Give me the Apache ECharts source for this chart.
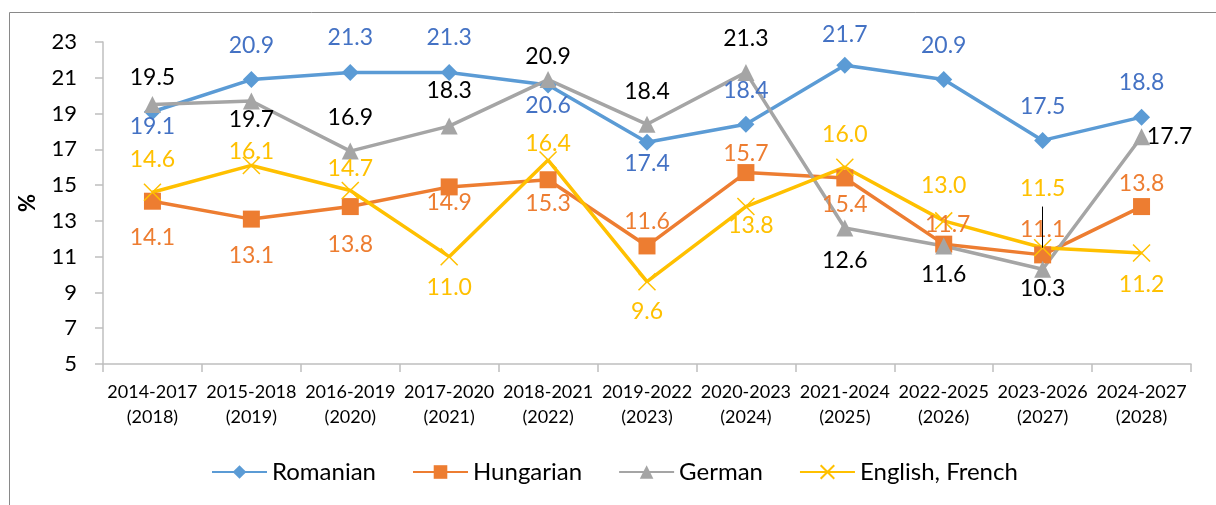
<!DOCTYPE html>
<html><head><meta charset="utf-8">
<script src="https://cdn.jsdelivr.net/npm/echarts@6/dist/echarts.min.js"></script>
<style>html,body{margin:0;padding:0;background:#fff}#c{width:1216px;height:505px}</style>
</head><body><div id="c"></div>
<script>
const categories = ['2014-2017\n(2018)','2015-2018\n(2019)','2016-2019\n(2020)','2017-2020\n(2021)','2018-2021\n(2022)','2019-2022\n(2023)','2020-2023\n(2024)','2021-2024\n(2025)','2022-2025\n(2026)','2023-2026\n(2027)','2024-2027\n(2028)'];
const romanian = [19.1, 20.9, 21.3, 21.3, 20.6, 17.4, 18.4, 21.7, 20.9, 17.5, 18.8];
const hungarian = [14.1, 13.1, 13.8, 14.9, 15.3, 11.6, 15.7, 15.4, 11.7, 11.1, 13.8];
const german = [19.5, 19.7, 16.9, 18.3, 20.9, 18.4, 21.3, 12.6, 11.6, 10.3, 17.7];
const englishFrench = [14.6, 16.1, 14.7, 11.0, 16.4, 9.6, 13.8, 16.0, 13.0, 11.5, 11.2];
const yTicks = [5, 7, 9, 11, 13, 15, 17, 19, 21, 23];

// label shifts (px) relative to each point, as placed in the original chart
const shiftRomanian = [15, -34, -35, -35, 21, 21, -34, -31, -34, -34, -35];
const shiftHungarian = [36, 36, 38, 16, 24, -24, -19, 27, -20, -25, -23];
const shiftGerman = [-27, 19, -34, -35, -23, -33, -34, 33, 29, 19, 0];
const shiftEnglish = [-33, -14, -22, 31, -16, 30, 19, -33, -35, -59, 31];
const sideRomanian = [0, 0, 0, 0, 0, 0, 0, 0, 0, 0, 0];
const sideHungarian = [0, 0, 0, 0, 0, 0, 0, 0, 4, 0, 0];
const sideGerman = [0, 0, 0, 0, 0, 0, 0, 0, 0, 0, 28];
const sideEnglish = [0, 0, 0, 0, 0, 0, 5, 0, 0, 0, 0];

const FONT = 'Lato, "Open Sans", sans-serif';
function series(name, values, shifts, sides, color, labelColor, symbol, extra) {
  return Object.assign({
    name: name, type: 'line', data: values,
    symbol: symbol, symbolSize: 17,
    lineStyle: { color: color, width: 3.5 },
    itemStyle: { color: color },
    label: { show: true, position: 'inside', color: labelColor, fontSize: 23, fontFamily: FONT,
      formatter: p => p.value.toFixed(1) },
    labelLayout: p => ({ dx: sides[p.dataIndex], dy: shifts[p.dataIndex], hideOverlap: false }),
    z: 2
  }, extra || {});
}

const chart = echarts.init(document.getElementById('c'));
chart.setOption({
  animation: false,
  backgroundColor: '#fff',
  graphic: [{ type: 'rect', shape: { x: 9.5, y: 12.5, width: 1300, height: 600 },
    style: { fill: 'none', stroke: '#898989', lineWidth: 1 }, silent: true }],
  grid: { left: 103, right: 25, top: 42, bottom: 141 },
  legend: {
    top: 455, left: 206, itemWidth: 55, itemHeight: 17, itemGap: 36,
    textStyle: { fontSize: 24, fontFamily: FONT, color: '#000' },
    data: ['Romanian', 'Hungarian', 'German', 'English, French']
  },
  xAxis: {
    type: 'category', data: categories, boundaryGap: true,
    axisLine: { lineStyle: { color: '#bfbfbf', width: 1.5 } },
    axisTick: { show: true, inside: false, length: 8, lineStyle: { color: '#bfbfbf', width: 1.5 } },
    axisLabel: { fontSize: 18, fontFamily: FONT, color: '#000', lineHeight: 25, margin: 16, interval: 0 }
  },
  yAxis: {
    type: 'value', min: yTicks[0], max: yTicks[yTicks.length - 1], interval: 2,
    name: '%', nameLocation: 'middle', nameGap: 64, nameRotate: 90,
    nameTextStyle: { fontSize: 22, fontWeight: 'bold', fontFamily: FONT, color: '#000' },
    axisLine: { show: true, lineStyle: { color: '#bfbfbf', width: 1.5 } },
    axisTick: { show: true, length: 8, lineStyle: { color: '#bfbfbf', width: 1.5 } },
    splitLine: { show: false },
    axisLabel: { fontSize: 22, fontFamily: FONT, color: '#000', margin: 26 }
  },
  series: [
    series('Romanian', romanian, shiftRomanian, sideRomanian, '#5B9BD5', '#4472C4', 'diamond'),
    series('Hungarian', hungarian, shiftHungarian, sideHungarian, '#ED7D31', '#ED7D31', 'rect'),
    series('German', german, shiftGerman, sideGerman, '#A5A5A5', '#000000', 'triangle'),
    series('English, French', englishFrench, shiftEnglish, sideEnglish, '#FFC000', '#FFC000',
      'path://M0,0L10,10M10,0L0,10',
      { itemStyle: { color: 'none', borderColor: '#FFC000', borderWidth: 1.5 },
        markLine: { silent: true, symbol: 'none', label: { show: false },
          lineStyle: { color: '#000', width: 1, type: 'solid' },
          data: [[{ coord: [9, 13.8] }, { coord: [9, 11.5] }]] } })
  ]
});
</script>
</body></html>
